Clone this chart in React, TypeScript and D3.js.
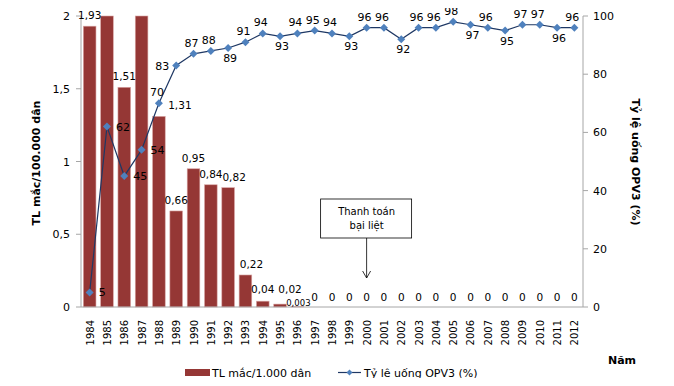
import React from "react";
import * as d3 from "d3";

const years = ["1984","1985","1986","1987","1988","1989","1990","1991","1992","1993","1994","1995","1996","1997","1998","1999","2000","2001","2002","2003","2004","2005","2006","2007","2008","2009","2010","2011","2012"];
const incidence = [1.93,2,1.51,2,1.31,0.66,0.95,0.84,0.82,0.22,0.04,0.02,0.003,0,0,0,0,0,0,0,0,0,0,0,0,0,0,0,0];
const incidenceLabels = ["1,93","","1,51","","1,31","0,66","0,95","0,84","0,82","0,22","0,04","0,02","0,003","0","0","0","0","0","0","0","0","0","0","0","0","0","0","0","0"];
const coverage = [5,62,45,54,70,83,87,88,89,91,94,93,94,95,94,93,96,96,92,96,96,98,97,96,95,97,97,96,96];
const coverageLabelPos = ["r","r","r","r","a","l","a","a","b","a","a","b","a","a","a","b","a","a","b","a","a","a","b","a","b","a","a","b","a"];
const leftTicks = [0,0.5,1,1.5,2];
const leftTickLabels = ["0","0,5","1","1,5","2"];
const rightTicks = [0,20,40,60,80,100];

const W = 674, H = 386;
const FONT = "'DejaVu Sans', Verdana, sans-serif";

export default function App() {
  const x0 = 81, x1 = 583, yTop = 16, yBot = 307;
  const x = d3.scaleBand<string>().domain(years).range([x0, x1]).paddingInner(0.27).paddingOuter(0.135);
  const xc = d3.scaleBand<string>().domain(years).range([x0, x1]);
  const yL = d3.scaleLinear().domain([0, 2]).range([yBot, yTop]);
  const yR = d3.scaleLinear().domain([0, 100]).range([yBot, yTop]);
  const cx = (y: string) => (xc(y) as number) + xc.bandwidth() / 2;
  const line = d3.line<number>().x((_, i) => cx(years[i])).y(d => yR(d));
  const diamond = (px: number, py: number, s = 4) => `M${px},${py - s}L${px + s},${py}L${px},${py + s}L${px - s},${py}Z`;
  const labelOffsets: Record<string, [number, number, string]> = {
    r: [9, 4, "start"], l: [-7, 5, "end"], a: [-2, -7, "middle"], b: [2, 14, "middle"],
  };
  const barLabelDx = [0,0,0,0,21,0,0,0,6,6,0,10,1,0,0,0,0,0,0,0,0,0,0,0,0,0,0,0,0];
  const barLabelDy = [-7,0,-7,0,-7,-7,-7,-7,-7,-7,-8,-11,-1,-6,-6,-6,-6,-6,-6,-6,-6,-6,-6,-6,-6,-6,-6,-6,-6];
  const annX = cx("2000");

  return (
    <div style={{ margin: -8 }}>
      <svg width={W} height={H} style={{ display: "block", background: "#fff" }}>
        {/* bars */}
        {years.map((yr, i) => (
          <rect key={yr} x={x(yr)} y={yL(incidence[i])} width={x.bandwidth()} height={yBot - yL(incidence[i])}
            fill="#953735" stroke="#d9a5a4" strokeWidth={0.6} />
        ))}
        {/* axes */}
        <line x1={x0} x2={x1} y1={yBot} y2={yBot} stroke="#a6a6a6" />
        <line x1={x0} x2={x0} y1={yTop} y2={yBot} stroke="#a6a6a6" />
        <line x1={x1} x2={x1} y1={yTop} y2={yBot} stroke="#a6a6a6" />
        {leftTicks.map((t, i) => (
          <g key={t}>
            <line x1={x0 - 5} x2={x0} y1={yL(t)} y2={yL(t)} stroke="#a6a6a6" />
            <text x={x0 - 11} y={yL(t) + 4} textAnchor="end" fontFamily={FONT} fontSize={11} fill="#000">{leftTickLabels[i]}</text>
          </g>
        ))}
        {rightTicks.map(t => (
          <g key={t}>
            <line x1={x1} x2={x1 + 5} y1={yR(t)} y2={yR(t)} stroke="#a6a6a6" />
            <text x={x1 + 10} y={yR(t) + 4} textAnchor="start" fontFamily={FONT} fontSize={11} fill="#000">{t}</text>
          </g>
        ))}
        {years.map(yr => (
          <text key={yr} transform={`translate(${cx(yr) + 4},${320}) rotate(-90)`} textAnchor="end"
            fontFamily={FONT} fontSize={10} fill="#000">{yr}</text>
        ))}
        {/* bar labels */}
        {years.map((yr, i) => incidenceLabels[i] === "" ? null : (
          <text key={"bl" + yr} x={cx(yr) + barLabelDx[i]} y={yL(incidence[i]) + barLabelDy[i]} textAnchor="middle"
            fontFamily={FONT} fontSize={i === 12 ? 8.5 : 10.5} fill="#000">{incidenceLabels[i]}</text>
        ))}
        {/* line */}
        <path d={line(coverage) || ""} fill="none" stroke="#1f3864" strokeWidth={1.2} />
        {coverage.map((v, i) => (
          <path key={"m" + i} d={diamond(cx(years[i]), yR(v))} fill="#4f81bd" />
        ))}
        {coverage.map((v, i) => {
          const [dx, dy, anchor] = labelOffsets[coverageLabelPos[i]];
          return (
            <text key={"ll" + i} x={cx(years[i]) + dx} y={yR(v) + dy} textAnchor={anchor as any}
              fontFamily={FONT} fontSize={11} fill="#000">{v}</text>
          );
        })}
        {/* annotation */}
        <rect x={annX - 46} y={199} width={91} height={39} fill="#fff" stroke="#000" strokeWidth={0.8} />
        <text x={annX} y={215} textAnchor="middle" fontFamily={FONT} fontSize={10} fill="#000">Thanh toán</text>
        <text x={annX} y={229} textAnchor="middle" fontFamily={FONT} fontSize={10} fill="#000">bại liệt</text>
        <line x1={annX} x2={annX} y1={238} y2={278} stroke="#000" strokeWidth={0.8} />
        <path d={`M${annX - 4},${271}L${annX},${278}L${annX + 4},${271}`} fill="none" stroke="#000" strokeWidth={0.8} />
        {/* axis titles */}
        <text transform={`translate(40,163) rotate(-90)`} textAnchor="middle" fontFamily={FONT} fontSize={11} fontWeight="bold" fill="#000">TL mắc/100.000 dân</text>
        <text transform={`translate(632,162) rotate(90)`} textAnchor="middle" fontFamily={FONT} fontSize={11} fontWeight="bold" fill="#000">Tỷ lệ uống OPV3 (%)</text>
        <text x={622} y={364} textAnchor="middle" fontFamily={FONT} fontSize={11} fontWeight="bold" fill="#000">Năm</text>
        {/* legend */}
        <rect x={185} y={369} width={25} height={7} fill="#953735" />
        <text x={212} y={377} fontFamily={FONT} fontSize={11} fill="#000">TL mắc/1.000 dân</text>
        <line x1={338} x2={361} y1={372.5} y2={372.5} stroke="#1f3864" strokeWidth={1.2} />
        <path d={diamond(349.5, 372.5, 3)} fill="#4f81bd" />
        <text x={364} y={377} fontFamily={FONT} fontSize={11} fill="#000">Tỷ lệ uống OPV3 (%)</text>
      </svg>
    </div>
  );
}
